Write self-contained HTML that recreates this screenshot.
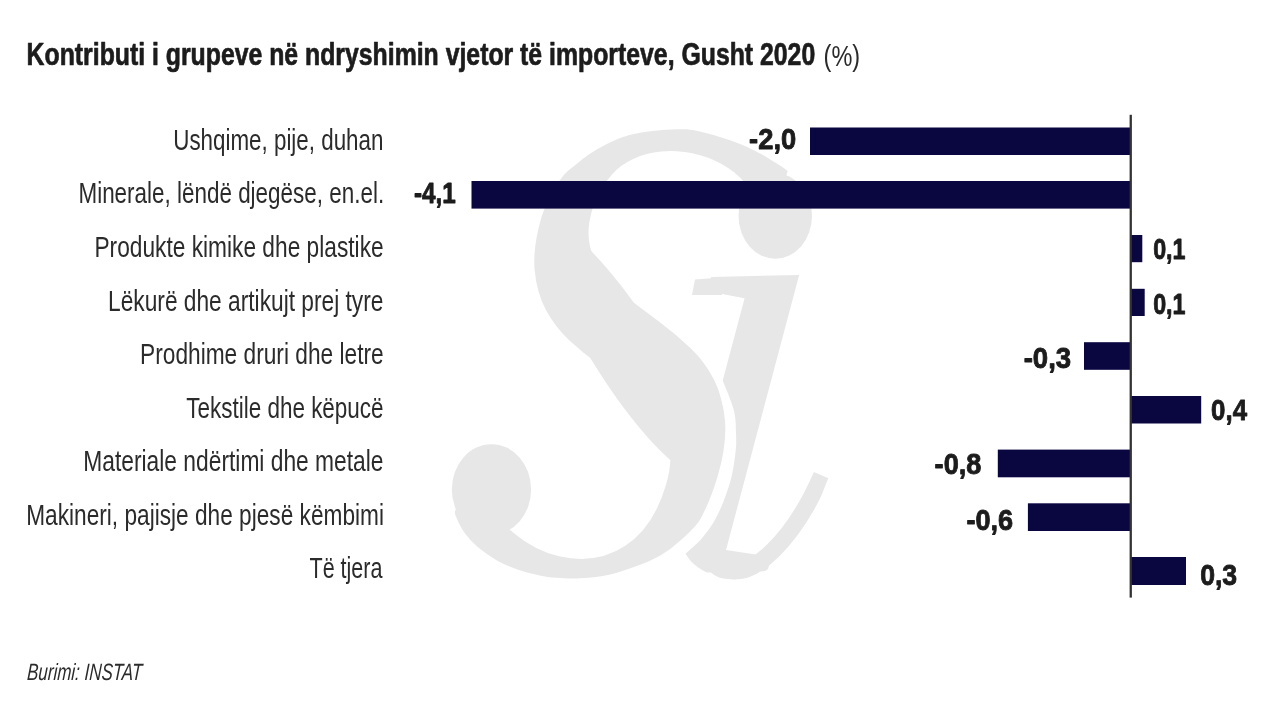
<!DOCTYPE html>
<html lang="sq">
<head>
<meta charset="utf-8">
<title>Kontributi i grupeve në ndryshimin vjetor të importeve, Gusht 2020</title>
<style>
html,body{margin:0;padding:0;background:#fff;}
body{width:1280px;height:720px;overflow:hidden;position:relative;}
svg{display:block;position:absolute;left:0;top:0;will-change:transform;}
text{font-family:"Liberation Sans",sans-serif;fill:#222;}
.ttl{font-weight:bold;fill:#1c1c1c;stroke:#1c1c1c;stroke-width:0.7px;stroke-linejoin:round;}
.lab{fill:#2b2b2b;}
.val{font-weight:bold;fill:#1c1c1c;stroke:#1c1c1c;stroke-width:0.9px;stroke-linejoin:round;}
.src{font-style:italic;fill:#2b2b2b;}
.wm,.wm text{font-family:"Liberation Serif",serif;fill:#e7e7e7;}
.wm .it{font-style:italic;}
</style>
</head>
<body>
<svg width="1280" height="720" viewBox="0 0 1280 720">
<rect x="0" y="0" width="1280" height="720" fill="#ffffff"/>
<defs>
<clipPath id="stem"><polygon points="600.0,266.0 900.0,266.0 900.0,470.0 832.0,470.0 828.0,478.8 827.3,480.7 826.3,483.1 825.2,486.1 823.9,489.3 822.6,492.8 821.1,496.4 819.6,499.9 818.0,503.3 816.4,506.6 814.7,510.1 812.9,513.6 811.0,517.2 809.0,520.7 807.0,524.2 805.0,527.6 803.0,530.8 800.9,533.9 798.9,536.9 796.7,539.8 794.6,542.7 792.4,545.4 790.1,548.1 787.8,550.8 785.5,553.3 783.1,555.8 780.7,558.3 778.2,560.7 775.7,563.0 773.1,565.2 770.6,567.2 768.0,569.1 765.5,570.8 763.0,572.3 760.5,573.5 758.0,574.7 755.5,575.6 753.0,576.4 750.5,577.2 748.0,577.8 745.5,578.3 743.0,578.7 740.4,579.1 737.9,579.3 735.3,579.4 732.8,579.4 730.3,579.3 727.9,579.1 725.5,578.8 723.2,578.4 720.9,578.0 718.6,577.4 716.4,576.7 714.3,576.0 712.1,575.1 710.1,574.2 708.0,573.3 706.0,572.3 703.9,571.1 701.8,569.8 699.8,568.5 697.9,567.2 696.1,565.8 694.5,564.5 693.0,563.3 691.7,562.1 690.5,560.8 689.5,559.5 688.6,558.3 687.8,557.1 687.1,556.1 686.5,555.2 685.5,553.8 686.8,552.5 688.6,551.0 690.7,549.1 693.1,547.0 695.5,544.8 698.0,542.4 700.4,539.9 702.5,537.5 704.5,535.1 706.4,532.5 708.4,530.0 710.3,527.3 712.1,524.4 714.0,521.5 715.8,518.3 717.5,515.0 719.2,511.4 721.0,507.5 722.7,503.4 724.3,499.2 725.9,494.9 727.4,490.7 728.8,486.5 730.0,482.5 731.1,478.6 732.0,474.6 732.8,470.6 733.5,466.7 734.1,462.9 734.6,459.2 735.1,455.8 735.5,452.5 735.8,449.5 736.0,446.9 736.2,444.4 736.2,442.0 736.2,439.7 736.2,437.4 736.1,435.1 736.0,432.5 735.9,429.9 735.8,427.2 735.8,424.6 735.6,421.9 735.4,419.1 735.0,416.2 734.5,413.2 733.8,410.0 732.7,406.4 731.3,402.3 729.7,398.0 728.0,393.6 726.3,389.4 724.7,385.6 723.4,382.4 722.5,380.0 600.0,380.0"/></clipPath>
<mask id="beak" maskUnits="userSpaceOnUse" x="0" y="0" width="1280" height="720"><rect x="0" y="0" width="1280" height="720" fill="#fff"/><polygon fill="#000" points="775.0,220.0 823.5,248.0 818.1,255.8 811.5,262.5 803.8,268.0 795.3,272.2 786.2,274.9 776.8,276.0 767.4,275.5 758.2,273.4 749.4,269.8 741.4,264.8 734.3,258.5 728.4,251.1 723.9,242.8 720.8,233.9 719.2,224.6 719.2,215.1"/><polygon fill="#000" points="491.0,486.0 429.9,496.8 429.0,484.6 430.5,472.6 434.3,461.0 440.2,450.4 448.1,441.2 457.7,433.7 468.5,428.2 480.2,424.9 492.4,424.0 504.4,425.5 516.0,429.3 526.6,435.2 535.8,443.1 543.3,452.7 548.8,463.5 552.1,475.2"/><polygon fill="#000" points="436.0,497.0 452.2,497.5 452.3,498.7 452.5,500.2 452.6,502.0 452.8,504.0 453.1,506.2 453.5,508.4 454.0,510.7 454.7,513.0 455.5,515.3 456.5,517.7 457.6,520.3 458.8,522.9 460.1,525.5 461.5,528.1 463.0,530.6 464.7,533.0 466.5,535.3 468.4,537.6 470.4,539.9 472.5,542.1 474.8,544.2 477.1,546.4 479.6,548.4 482.2,550.5 484.9,552.5 487.7,554.5 490.7,556.5 493.8,558.5 496.9,560.4 500.2,562.2 503.7,563.9 507.2,565.5 510.9,567.0 514.8,568.5 518.8,569.9 523.0,571.2 527.2,572.5 531.4,573.6 535.6,574.6 539.7,575.5 543.8,576.3 547.8,576.9 551.9,577.4 556.0,577.8 560.0,578.1 564.1,578.3 568.1,578.5 572.2,578.5 576.3,578.5 580.4,578.3 584.5,578.1 588.6,577.8 593.3,577.3 597.4,576.8 601.4,576.2 605.3,575.5 609.2,574.7 613.1,573.7 617.0,572.7 620.8,571.5 624.5,570.3 628.2,569.0 631.8,567.8 635.3,566.5 638.7,565.2 642.0,564.0 645.3,562.7 648.4,561.4 651.5,560.0 654.5,558.6 657.4,557.1 660.3,555.5 663.1,553.8 665.7,552.1 668.3,550.3 670.8,548.4 673.2,546.5 675.6,544.5 678.0,542.5 680.3,540.5 682.6,538.5 684.9,536.4 687.2,534.3 689.4,532.2 691.5,530.0 693.7,527.8 695.7,525.4 697.8,523.0 699.8,520.4 701.9,517.7 703.9,514.9 705.9,512.1 707.8,509.2 709.6,506.2 711.3,503.3 712.8,500.5 714.2,497.7 715.5,494.9 716.7,492.1 717.7,489.2 718.7,486.4 719.6,483.6 720.5,480.8 721.3,478.0 722.0,475.2 722.7,472.4 723.3,469.6 723.8,466.8 724.2,463.9 724.6,461.1 725.0,458.3 725.3,455.5 725.6,452.7 725.8,449.8 726.0,446.8 726.1,443.9 726.2,441.1 726.3,438.3 726.3,435.6 726.3,433.0 726.3,430.6 726.3,428.3 726.2,426.2 726.2,424.1 726.1,422.0 725.9,419.9 725.6,417.8 725.3,415.5 724.8,413.0 724.2,410.2 723.5,407.3 722.7,404.4 722.0,401.6 721.3,399.2 720.7,397.1 720.3,395.5 760.0,395.0 760.0,606.0 436.0,606.0"/><polygon fill="#000" points="518.0,262.0 533.7,261.5 533.7,261.0 533.7,260.4 533.6,259.7 533.6,258.9 533.6,258.0 533.6,257.0 533.6,255.8 533.7,254.5 533.8,253.0 533.9,251.4 534.0,249.7 534.2,247.8 534.4,245.8 534.6,243.8 534.9,241.7 535.2,239.5 535.5,237.4 535.8,235.3 536.0,233.2 536.3,231.0 536.7,228.6 537.4,226.0 538.4,222.9 539.7,219.5 541.5,215.4 543.7,210.5 546.2,205.3 549.0,199.8 551.8,194.3 554.6,189.1 557.3,184.4 559.7,180.5 561.9,177.4 564.0,174.8 566.0,172.7 567.9,170.9 569.8,169.3 571.8,167.8 573.8,166.2 576.0,164.5 578.1,162.7 580.3,160.9 582.5,159.1 584.8,157.4 587.1,155.7 589.5,154.0 592.0,152.4 594.7,150.8 597.5,149.1 600.5,147.4 603.6,145.7 606.8,144.0 610.1,142.4 613.3,140.9 616.5,139.5 619.7,138.2 622.8,137.1 625.7,136.2 628.6,135.3 631.6,134.5 634.6,133.8 637.7,133.2 641.1,132.6 644.7,132.0 648.7,131.5 653.0,131.0 657.5,130.5 662.2,130.1 666.9,129.8 671.4,129.5 675.7,129.3 679.7,129.2 683.3,129.2 686.7,129.3 689.8,129.5 692.8,129.7 695.8,130.0 698.7,130.4 701.6,130.8 704.7,131.4 707.9,132.1 711.1,132.9 714.3,133.7 717.5,134.7 720.7,135.7 723.8,136.8 726.8,137.8 729.7,138.9 732.5,140.0 735.1,141.1 737.7,142.3 740.2,143.5 742.6,144.7 745.0,145.9 747.4,147.1 749.7,148.2 752.0,149.4 754.2,150.5 756.4,151.6 758.5,152.7 760.7,153.8 762.8,155.0 765.0,156.2 767.2,157.5 769.5,158.9 771.9,160.4 774.4,161.9 776.8,163.5 779.2,165.0 781.5,166.6 783.7,168.1 785.7,169.5 787.6,170.9 789.3,172.4 791.0,173.8 792.6,175.2 794.0,176.6 795.3,177.8 796.4,178.7 797.2,179.5 814.0,180.0 814.0,110.0 518.0,110.0"/></mask>
</defs>
<g class="wm" font-size="500" fill="#e7e7e7">
<g mask="url(#beak)"><text transform="matrix(1.1099 0.2487 -0.4002 1.3540 405.48 543.31)">S</text></g>
<ellipse cx="625.48" cy="350.74" rx="147.04" ry="33.69" transform="rotate(57.71 625.48 350.74)"/>
<ellipse cx="680.06" cy="212.23" rx="80.39" ry="60.25" transform="rotate(11.78 680.06 212.23)" fill="#ffffff"/>
<ellipse cx="775.26" cy="215.96" rx="36.72" ry="42.75"/>
<ellipse cx="491.49" cy="489.39" rx="39.64" ry="45.25"/>
<g clip-path="url(#stem)"><text class="it" transform="matrix(1.2036 -0.0285 -0.1328 1.2903 637.93 574.19)">i</text>
<ellipse cx="773.46" cy="440.78" rx="57.79" ry="138.87" transform="rotate(20.98 773.46 440.78)" fill="none" stroke="#e7e7e7" stroke-width="17.0" stroke-dasharray="169.2 644.4" stroke-dashoffset="-15.2"/>
<polygon points="692,295 695,279.5 722,277.6 722,295"/></g>
</g>
<g fill="#0a0640">
<rect x="810.0" y="127.5" width="320.0" height="27.5"/>
<rect x="471.5" y="181.0" width="658.5" height="27.6"/>
<rect x="1131.0" y="235.0" width="11.3" height="27.2"/>
<rect x="1131.0" y="288.8" width="13.7" height="27.2"/>
<rect x="1084.0" y="342.2" width="46.0" height="27.6"/>
<rect x="1131.0" y="396.0" width="70.2" height="27.5"/>
<rect x="997.8" y="449.6" width="132.2" height="27.7"/>
<rect x="1027.9" y="503.3" width="102.1" height="27.7"/>
<rect x="1131.0" y="557.0" width="55.0" height="28.0"/>
</g>
<rect x="1129.6" y="114.8" width="2.3" height="482.8" fill="#333333"/>
<text class="ttl" font-size="30.7" transform="translate(26.6,65.3) scale(0.8084,1)">Kontributi i grupeve në ndryshimin vjetor të importeve, Gusht 2020</text>
<text class="lab" font-size="30" transform="translate(823.6,66.0) scale(0.785,1)">(%)</text>
<text class="lab" text-anchor="end" font-size="30" transform="translate(383.42,150) scale(0.7461,1)">Ushqime, pije, duhan</text>
<text class="lab" text-anchor="end" font-size="30" transform="translate(384.13,203.25) scale(0.7484,1)">Minerale, lëndë djegëse, en.el.</text>
<text class="lab" text-anchor="end" font-size="30" transform="translate(383.63,257) scale(0.7574,1)">Produkte kimike dhe plastike</text>
<text class="lab" text-anchor="end" font-size="30" transform="translate(383.43,310.5) scale(0.7578,1)">Lëkurë dhe artikujt prej tyre</text>
<text class="lab" text-anchor="end" font-size="30" transform="translate(383.63,363.75) scale(0.7572,1)">Prodhime druri dhe letre</text>
<text class="lab" text-anchor="end" font-size="30" transform="translate(383.62,417.8) scale(0.7496,1)">Tekstile dhe këpucë</text>
<text class="lab" text-anchor="end" font-size="30" transform="translate(383.53,470.9) scale(0.7604,1)">Materiale ndërtimi dhe metale</text>
<text class="lab" text-anchor="end" font-size="30" transform="translate(383.94,524.7) scale(0.7557,1)">Makineri, pajisje dhe pjesë këmbimi</text>
<text class="lab" text-anchor="end" font-size="30" transform="translate(382.5,577.8) scale(0.7182,1)">Të tjera</text>
<text class="val" text-anchor="end" font-size="30.4" transform="translate(796.18,149.0) scale(0.8988,1)">-2,0</text>
<text class="val" text-anchor="end" font-size="30.4" transform="translate(455.88,203.3) scale(0.7995,1)">-4,1</text>
<text class="val" text-anchor="start" font-size="30.4" transform="translate(1153.17,259.0) scale(0.7659,1)">0,1</text>
<text class="val" text-anchor="start" font-size="30.4" transform="translate(1153.17,313.9) scale(0.7659,1)">0,1</text>
<text class="val" text-anchor="end" font-size="30.4" transform="translate(1071.17,367.6) scale(0.9064,1)">-0,3</text>
<text class="val" text-anchor="start" font-size="30.4" transform="translate(1211.11,420.4) scale(0.8497,1)">0,4</text>
<text class="val" text-anchor="end" font-size="30.4" transform="translate(981.35,474.2) scale(0.8924,1)">-0,8</text>
<text class="val" text-anchor="end" font-size="30.4" transform="translate(1013.16,529.7) scale(0.8927,1)">-0,6</text>
<text class="val" text-anchor="start" font-size="30.4" transform="translate(1200.13,584.9) scale(0.8774,1)">0,3</text>
<text class="src" font-size="23.5" transform="translate(26.82,679.9) skewX(-3.2) scale(0.7209,1)">Burimi: INSTAT</text>
</svg>
</body>
</html>
